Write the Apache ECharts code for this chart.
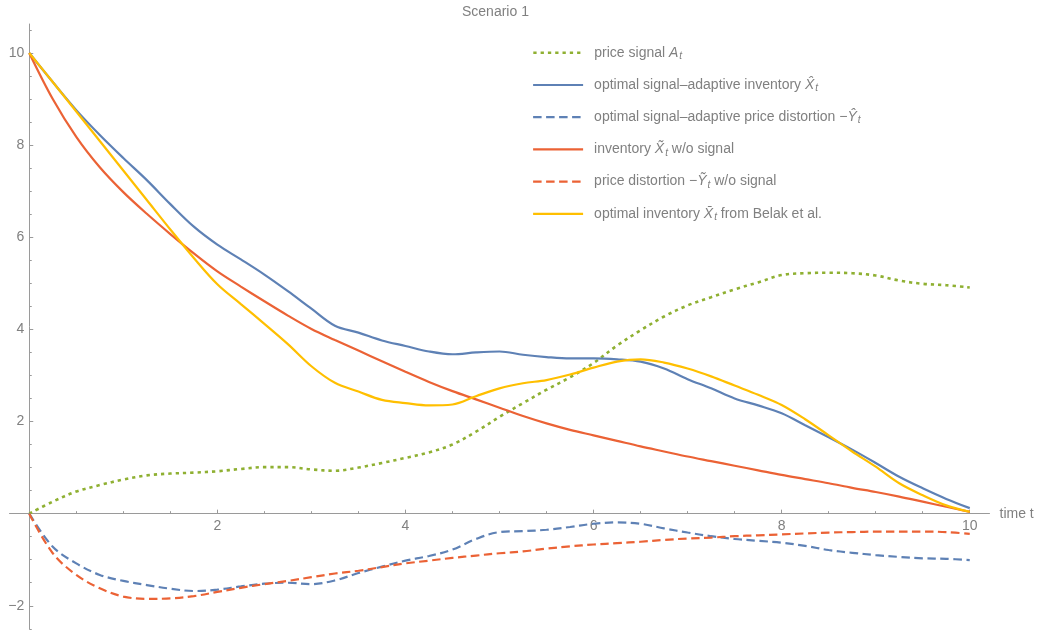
<!DOCTYPE html>
<html>
<head>
<meta charset="utf-8">
<script src="https://cdn.jsdelivr.net/npm/echarts@6/dist/echarts.min.js"></script>
<style>html,body{margin:0;padding:0;background:#fff}#c{width:1039px;height:633px}</style>
</head>
<body>
<div id="c"></div>
<script>
const T = [0,0.25,0.5,0.75,1,1.25,1.5,1.75,2,2.25,2.5,2.75,3,3.25,3.5,3.75,4,4.25,4.5,4.75,5,5.25,5.5,5.75,6,6.25,6.5,6.75,7,7.25,7.5,7.75,8,8.25,8.5,8.75,9,9.25,9.5,9.75,10];
const priceSignal = [0,0.26,0.48,0.62,0.74,0.83,0.87,0.89,0.92,0.97,1.01,1.01,0.96,0.93,1.00,1.10,1.21,1.33,1.50,1.78,2.10,2.40,2.69,2.96,3.27,3.65,3.98,4.28,4.52,4.70,4.87,5.02,5.18,5.22,5.23,5.22,5.17,5.06,4.99,4.96,4.91];
const invAdaptive = [10,9.37,8.76,8.22,7.72,7.24,6.72,6.23,5.84,5.52,5.19,4.83,4.45,4.08,3.93,3.76,3.64,3.52,3.46,3.50,3.52,3.45,3.40,3.37,3.37,3.35,3.30,3.15,2.92,2.72,2.50,2.35,2.18,1.92,1.66,1.39,1.10,0.80,0.55,0.32,0.12];
const distAdaptive = [0,-0.72,-1.08,-1.33,-1.46,-1.55,-1.63,-1.68,-1.65,-1.58,-1.52,-1.50,-1.53,-1.45,-1.29,-1.15,-1.02,-0.92,-0.78,-0.55,-0.40,-0.38,-0.35,-0.29,-0.22,-0.19,-0.22,-0.32,-0.41,-0.49,-0.55,-0.59,-0.63,-0.70,-0.79,-0.85,-0.90,-0.94,-0.97,-0.98,-1.01];
const invNoSignal = [10,9.0,8.18,7.52,6.98,6.51,6.07,5.65,5.26,4.93,4.61,4.30,4.01,3.77,3.54,3.31,3.08,2.86,2.66,2.48,2.30,2.12,1.96,1.82,1.70,1.58,1.46,1.35,1.24,1.14,1.04,0.94,0.84,0.75,0.66,0.56,0.47,0.37,0.26,0.15,0.04];
const distNoSignal = [0,-0.86,-1.33,-1.62,-1.80,-1.85,-1.84,-1.79,-1.70,-1.61,-1.53,-1.46,-1.38,-1.30,-1.24,-1.16,-1.08,-1.02,-0.96,-0.91,-0.86,-0.82,-0.76,-0.71,-0.67,-0.64,-0.61,-0.57,-0.54,-0.52,-0.49,-0.47,-0.45,-0.43,-0.41,-0.40,-0.39,-0.39,-0.39,-0.40,-0.44];
const invBelak = [10,9.37,8.73,8.09,7.45,6.81,6.17,5.55,4.98,4.55,4.12,3.68,3.20,2.84,2.65,2.47,2.40,2.35,2.37,2.55,2.72,2.83,2.90,3.02,3.17,3.30,3.35,3.28,3.15,2.98,2.78,2.58,2.36,2.05,1.70,1.35,1.02,0.66,0.40,0.18,0.04];

const xMajorTicks = [2,4,6,8,10];
const xMinorTicks = [0.5,1,1.5,2.5,3,3.5,4.5,5,5.5,6.5,7,7.5,8.5,9,9.5];
const yMajorTicks = [-2,2,4,6,8,10];
const yMinorTicks = [-2.5,-1.5,-1,-0.5,0.5,1,1.5,2.5,3,3.5,4.5,5,5.5,6.5,7,7.5,8.5,9,9.5,10.5];
const xTickLabels = ['2','4','6','8','10'];
const yTickLabels = ['\u22122','2','4','6','8','10'];

const titleText = 'Scenario 1';
const xName = 'time t';
const seriesKeys = ['A','Xhat','Yhat','Xtil','Ytil','Xbar'];
const legendLabels = {
  A: '{n|price signal }{i|A}{s|t}',
  Xhat: '{n|optimal signal\u2013adaptive inventory }{i|X\u0302}{s|t}',
  Yhat: '{n|optimal signal\u2013adaptive price distortion \u2212}{i|\u0176}{s|t}',
  Xtil: '{n|inventory }{i|X\u0303}{s|t}{n| w/o signal}',
  Ytil: '{n|price distortion \u2212}{i|\u1EF8}{s|t}{n| w/o signal}',
  Xbar: '{n|optimal inventory }{i|X\u0304}{s|t}{n| from Belak et al.}'
};

const FONT = "'Liberation Sans', Arial, sans-serif";
const AX = '#9a9a9a';
const TX = '#808080';
const BLUE = '#5e81b5', RED = '#eb6235', GREEN = '#8fb032', YELLOW = '#ffbf00';
const DOT = [3.3, 4], DASH = [8.5, 4.5];

function pairs(vals){ return T.map((t,i)=>[t, vals[i]]); }

const seriesDefs = [
  {key:'A', vals: priceSignal, color: GREEN, type: DOT, width: 2.6},
  {key:'Xhat', vals: invAdaptive, color: BLUE, type: 'solid', width: 2.2},
  {key:'Yhat', vals: distAdaptive, color: BLUE, type: DASH, width: 2.2},
  {key:'Xtil', vals: invNoSignal, color: RED, type: 'solid', width: 2.2},
  {key:'Ytil', vals: distNoSignal, color: RED, type: DASH, width: 2.2},
  {key:'Xbar', vals: invBelak, color: YELLOW, type: 'solid', width: 2.2}
];

const rich = {
  n: {fontSize: 14, color: TX, fontFamily: FONT, lineHeight: 20},
  i: {fontSize: 14, color: TX, fontFamily: FONT, fontStyle: 'italic', lineHeight: 20},
  s: {fontSize: 10, color: TX, fontFamily: FONT, fontStyle: 'italic', padding: [7,0,0,1]}
};

const legends = seriesKeys.map((k, idx) => ({
  data: [k],
  orient: 'vertical',
  left: 532,
  top: 51.8 + idx * 32.2 - 6,
  padding: 0,
  itemWidth: 50,
  itemHeight: 14,
  selectedMode: false,
  formatter: name => legendLabels[name],
  textStyle: {rich: rich, padding: [0,0,0,6], fontSize: 14, color: TX, fontFamily: FONT},
  lineStyle: {width: 'inherit'},
  itemStyle: {color: 'rgba(0,0,0,0)', borderWidth: 0, opacity: 0}
}));

const lineSeries = seriesDefs.map(d => ({
  name: d.key,
  type: 'line',
  xAxisIndex: 0, yAxisIndex: 0,
  data: pairs(d.vals),
  symbol: 'none',
  showSymbol: false,
  smooth: 0.35,
  color: d.color,
  z: 3,
  lineStyle: {color: d.color, width: d.width, type: d.type, cap: 'butt'},
  emphasis: {disabled: true}
}));

const tickLabelStyle = {show: true, color: TX, fontSize: 14, fontFamily: FONT, opacity: 1};
const labelSeries = [
  {name: 'xTickLabels', type: 'scatter', xAxisIndex: 0, yAxisIndex: 0, z: 1, silent: true,
    symbol: 'circle', symbolSize: 1, itemStyle: {color: 'rgba(255,255,255,0)'},
    data: xMajorTicks.map(v => [v, 0]),
    label: Object.assign({}, tickLabelStyle, {position: 'bottom', distance: 5,
      formatter: p => xTickLabels[p.dataIndex]}),
    emphasis: {disabled: true}},
  {name: 'yTickLabels', type: 'scatter', xAxisIndex: 0, yAxisIndex: 0, z: 1, silent: true,
    symbol: 'circle', symbolSize: 1, itemStyle: {color: 'rgba(255,255,255,0)'},
    data: yMajorTicks.map(v => [0, v]),
    label: Object.assign({}, tickLabelStyle, {position: 'left', distance: 4.5,
      formatter: p => yTickLabels[p.dataIndex]}),
    emphasis: {disabled: true}}
];

const option = {
  animation: false,
  backgroundColor: '#fff',
  textStyle: {fontFamily: FONT},
  title: {text: titleText, left: 462, top: 5, padding: 0,
    textStyle: {fontSize: 14, fontWeight: 'normal', color: TX, fontFamily: FONT}},
  legend: legends,
  grid: {left: 9.5, right: 49.5, top: 24, bottom: 4.2, containLabel: false, outerBoundsMode: 'none'},
  xAxis: [
    {type: 'value', min: -0.21, max: 10.21, position: 'bottom',
      axisLine: {onZero: true, lineStyle: {color: AX, width: 1}},
      axisTick: {inside: true, length: 4, customValues: xMajorTicks, lineStyle: {color: AX}},
      axisLabel: {show: false},
      splitLine: {show: false},
      name: xName, nameLocation: 'end', nameGap: 10,
      nameTextStyle: {color: TX, fontSize: 14, fontFamily: FONT}},
    {type: 'value', min: -0.21, max: 10.21, position: 'bottom',
      axisLine: {show: false, onZero: true, onZeroAxisIndex: 0},
      axisTick: {inside: true, length: 2.5, customValues: xMinorTicks, lineStyle: {color: AX}},
      axisLabel: {show: false}, splitLine: {show: false}}
  ],
  yAxis: [
    {type: 'value', min: -2.5, max: 10.63, position: 'left',
      axisLine: {onZero: true, lineStyle: {color: AX, width: 1}},
      axisTick: {inside: true, length: 4, customValues: yMajorTicks, lineStyle: {color: AX}},
      axisLabel: {show: false},
      splitLine: {show: false}},
    {type: 'value', min: -2.5, max: 10.63, position: 'left',
      axisLine: {show: false, onZero: true, onZeroAxisIndex: 0},
      axisTick: {inside: true, length: 2.5, customValues: yMinorTicks, lineStyle: {color: AX}},
      axisLabel: {show: false}, splitLine: {show: false}}
  ],
  series: lineSeries.concat(labelSeries)
};

const chart = echarts.init(document.getElementById('c'), null, {renderer: 'canvas'});
chart.setOption(option);
</script>
</body>
</html>
